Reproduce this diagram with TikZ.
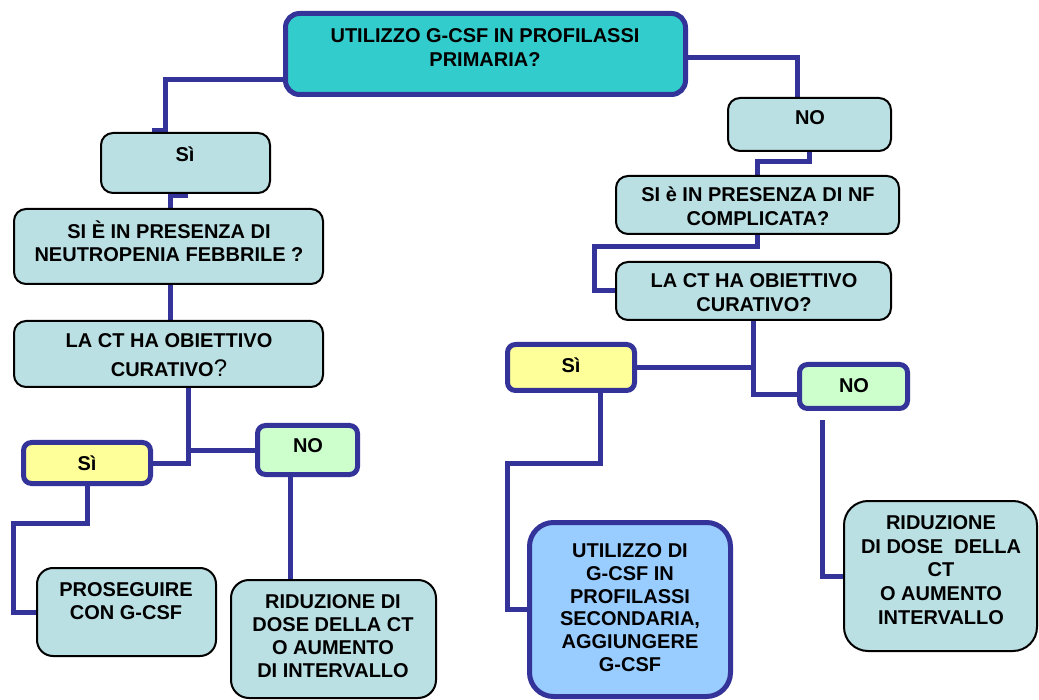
\documentclass[tikz,border=0pt]{standalone}
\usepackage{fontspec}
\setmainfont{Liberation Sans}
\usetikzlibrary{backgrounds}
\definecolor{linkblue}{HTML}{333399}
\definecolor{teal1}{HTML}{33CCCC}
\definecolor{pale}{HTML}{BBE0E3}
\definecolor{lemon}{HTML}{FFFF99}
\definecolor{mint}{HTML}{CCFFCC}
\definecolor{sky}{HTML}{99CCFF}
\begin{document}
\begin{tikzpicture}[x=1pt,y=-1pt,
  every node/.style={inner sep=0pt, outer sep=0pt},
  plainbox/.style={draw=black, line width=2pt, fill=pale, rounded corners=12pt},
  strongbox/.style={draw=linkblue, line width=5pt, rounded corners=#1},
  strongbox/.default=10pt,
  txt/.style={font=\fontsize{20}{23.5}\selectfont\bfseries, align=center},
  conn/.style={draw=linkblue, line width=5pt}
]
\useasboundingbox (0,0) rectangle (1039,700);

% boxes
\node[strongbox=14pt, fill=teal1, minimum width=400pt, minimum height=81pt] (top) at (485.5,54) {};
\node[plainbox, minimum width=169pt, minimum height=60pt] (siL) at (185.5,163) {};
\node[plainbox, minimum width=309pt, minimum height=75pt] (presL) at (168.5,246.5) {};
\node[plainbox, minimum width=309pt, minimum height=66pt] (ctL) at (168.5,354) {};
\node[strongbox=8pt, fill=lemon, minimum width=127pt, minimum height=41pt] (siYL) at (87,463) {};
\node[strongbox=8pt, fill=mint, minimum width=100pt, minimum height=49pt] (noGL) at (307.5,450) {};
\node[plainbox, rounded corners=16pt, minimum width=179pt, minimum height=88pt] (pros) at (126.5,612) {};
\node[plainbox, rounded corners=18pt, minimum width=205pt, minimum height=118pt] (ridL) at (333.5,639) {};
\node[plainbox, minimum width=163pt, minimum height=53pt] (noR) at (809.5,124.5) {};
\node[plainbox, minimum width=283pt, minimum height=58pt] (nfR) at (757.5,205) {};
\node[plainbox, minimum width=275pt, minimum height=58pt] (ctR) at (753.5,291) {};
\node[strongbox=8pt, fill=lemon, minimum width=127pt, minimum height=46pt] (siYR) at (571,367.5) {};
\node[strongbox=8pt, fill=mint, minimum width=108pt, minimum height=44pt] (noGR) at (853.5,386.5) {};
\node[strongbox=24pt, fill=sky, minimum width=201pt, minimum height=174pt] (blue) at (630,609.5) {};
\node[plainbox, rounded corners=24pt, minimum width=193pt, minimum height=150pt] (ridR) at (940.5,576) {};

% labels
\node[txt] (topT) at (485,47.5) {UTILIZZO G-CSF IN PROFILASSI\\PRIMARIA?};
\node[txt] (siLT) at (185,154) {Sì};
\node[txt] (presLT) at (169,241) {SI È IN PRESENZA DI\\NEUTROPENIA FEBBRILE ?};
\node[txt, font=\fontsize{20}{29}\selectfont\bfseries] (ctLT) at (169,355) {LA CT HA OBIETTIVO\\CURATIVO{\mdseries\fontsize{24}{24}\selectfont ?}};
\node[txt] (siYLT) at (87,463) {Sì};
\node[txt] (noGLT) at (308,446) {NO};
\node[txt] (prosT) at (126,601) {PROSEGUIRE\\CON G-CSF};
\node[txt, font=\fontsize{20}{23}\selectfont\bfseries] (ridLT) at (333,636.5) {RIDUZIONE DI\\DOSE DELLA CT\\O AUMENTO\\DI INTERVALLO};
\node[txt] (noRT) at (810,118) {NO};
\node[txt] (nfRT) at (758,206.5) {SI è IN PRESENZA DI NF\\COMPLICATA?};
\node[txt] (ctRT) at (754,292.5) {LA CT HA OBIETTIVO\\CURATIVO?};
\node[txt] (siYRT) at (571,365) {Sì};
\node[txt] (noGRT) at (854,386) {NO};
\node[txt, font=\fontsize{20}{22.7}\selectfont\bfseries] (blueT) at (630,607.5) {UTILIZZO DI\\G-CSF IN\\PROFILASSI\\SECONDARIA,\\AGGIUNGERE\\G-CSF};
\node[txt, font=\fontsize{20}{23.7}\selectfont\bfseries] (ridRT) at (941,570) {RIDUZIONE\\DI DOSE\ \ DELLA\\CT\\O AUMENTO\\INTERVALLO};

\coordinate (noTail) at (822,420);

% connectors
\begin{pgfonlayer}{background}
\draw[conn] (top.west |- 0,80) -| (siL.north -| 165,0) -- ++(0,-2) -- ++(-13,0);
\draw[conn] (siL.south) -- ++(0,3) -| (presL.north -| 170,0);
\draw[conn] (presL.south -| 170,0) -- (ctL.north -| 170,0);
\draw[conn] (ctL.south -| 188,0) |- (siYL.east);
\draw[conn] (ctL.south -| 188,0) |- (noGL.west);
\draw[conn] (siYL.south) |- ++(-74,40) |- (pros.west);
\draw[conn] (noGL.south -| 290,0) -- (ridL.north -| 290,0);
\draw[conn] (top.east |- 0,58) -| (noR.north -| 797,0);
\draw[conn] (noR.south) -- ++(0,11) -| (nfR.north);
\draw[conn] (nfR.south) -- ++(0,13) -- ++(-163.5,0) |- (ctR.west);
\draw[conn] (ctR.south) |- (siYR.east);
\draw[conn] (ctR.south) |- (noGR.west |- 0,395);
\draw[conn] (siYR.south -| 600,0) -- ++(0,73) -- ++(-93,0) |- (blue.west);
\draw[conn] (noTail) |- (ridR.west);
\end{pgfonlayer}
\end{tikzpicture}
\end{document}
